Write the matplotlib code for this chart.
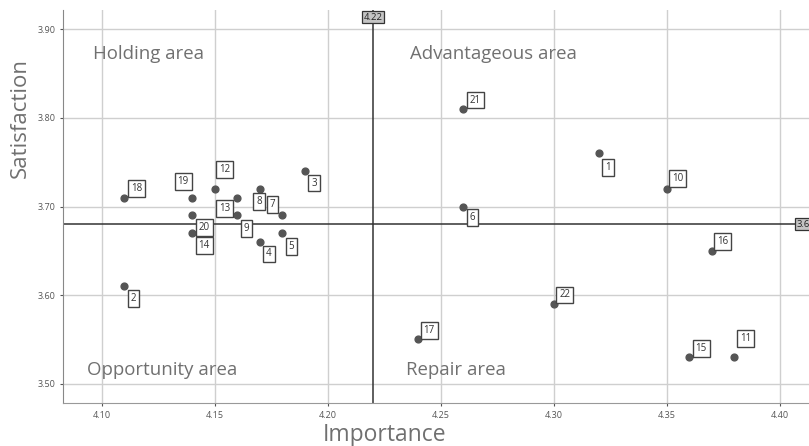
import matplotlib.pyplot as plt

plt.rcParams["font.family"] = ["Open Sans", "DejaVu Sans"]

# importance-satisfaction data, items 1..22
items = list(range(1, 23))
importance = [4.32, 4.11, 4.19, 4.17, 4.18, 4.26, 4.18, 4.17, 4.16, 4.35, 4.38,
              4.15, 4.16, 4.14, 4.36, 4.37, 4.24, 4.11, 4.14, 4.14, 4.26, 4.30]
satisfaction = [3.76, 3.61, 3.74, 3.66, 3.67, 3.70, 3.69, 3.72, 3.69, 3.72, 3.53,
                3.72, 3.71, 3.67, 3.53, 3.65, 3.55, 3.71, 3.71, 3.69, 3.81, 3.59]
mean_importance = 4.22
mean_satisfaction = 3.68

x_ticks = [4.10, 4.15, 4.20, 4.25, 4.30, 4.35, 4.40]
y_ticks = [3.50, 3.60, 3.70, 3.80, 3.90]

# label offsets in pixels (dx right, dy down), like the spss layout
offsets = {1: (9, 14), 2: (9, 12), 3: (9, 12), 4: (9, 12), 5: (9, 13), 6: (9, 11),
           7: (-10, -11), 8: (-1, 13), 9: (9, 13), 10: (11, -10), 11: (11, -19),
           12: (10, -19), 13: (-13, 11), 14: (12, 12), 15: (12, -9), 16: (11, -9),
           17: (11, -9), 18: (12, -9), 19: (-9, -16), 20: (12, 12), 21: (12, -9),
           22: (11, -9)}

grey_txt = "#707070"

fig = plt.figure(figsize=(8.09, 4.46), dpi=100)
ax = fig.add_axes([63.3 / 809, 1 - 403.3 / 446, 1 - 63.3 / 809, (403.3 - 10) / 446])

ax.set_xlim(4.083, 4.413)
ax.set_ylim(3.4779, 3.9218)
ax.set_xticks(x_ticks)
ax.set_yticks(y_ticks)
ax.set_xticklabels([f"{v:.2f}" for v in x_ticks])
ax.set_yticklabels([f"{v:.2f}" for v in y_ticks])
ax.tick_params(labelsize=6.5, colors="#555555", length=2, width=0.8)
ax.grid(True, color="#cfcfcf", linewidth=1)
ax.set_axisbelow(True)

for s in ["top", "right"]:
    ax.spines[s].set_visible(False)
ax.spines["left"].set_color("#888888")
ax.spines["bottom"].set_color("#999999")

# reference lines at the means
ax.axvline(mean_importance, color="#333333", linewidth=1.1)
ax.axhline(mean_satisfaction, color="#333333", linewidth=1.1)

ax.scatter(importance, satisfaction, s=24, color="#555555", zorder=3)

box = dict(boxstyle="square,pad=0.3", facecolor="white", edgecolor="#444444", linewidth=1)
for i, x, y in zip(items, importance, satisfaction):
    dx, dy = offsets[i]
    ax.annotate(str(i), (x, y), xytext=(dx, -dy), textcoords="offset pixels",
                ha="center", va="center", fontsize=7, color="#333333", bbox=box, zorder=4)

refbox = dict(boxstyle="square,pad=0.15", facecolor="#c4c4c4", edgecolor="#333333", linewidth=0.9)
ax.annotate(f"{mean_importance:.2f}", (mean_importance, 1), xycoords=("data", "axes fraction"),
            xytext=(0, -7), textcoords="offset pixels", ha="center", va="center",
            fontsize=6.8, color="#222222", bbox=refbox, annotation_clip=False)
ax.annotate(f"{mean_satisfaction:.2f}", (4.4075, mean_satisfaction), ha="left", va="center",
            fontsize=6.8, color="#222222", bbox=refbox, annotation_clip=False)

area_font = dict(fontsize=13.4, color=grey_txt, va="center", ha="left")
ax.text(4.0963, 3.872, "Holding area", **area_font)
ax.text(4.2365, 3.872, "Advantageous area", **area_font)
ax.text(4.0934, 3.5155, "Opportunity area", **area_font)
ax.text(4.2345, 3.5155, "Repair area", **area_font)

ax.set_xlabel("Importance", fontsize=16.5, color=grey_txt, va="center")
ax.set_ylabel("Satisfaction", fontsize=16, color=grey_txt, va="center")
ax.xaxis.set_label_coords((385 - 63.3) / (809 - 63.3), -(435 - 403.3) / 393.3)
ax.yaxis.set_label_coords(-(63.3 - 20) / 745.7, (403.3 - 118) / 393.3)

fig.savefig("out.png", dpi=100)
